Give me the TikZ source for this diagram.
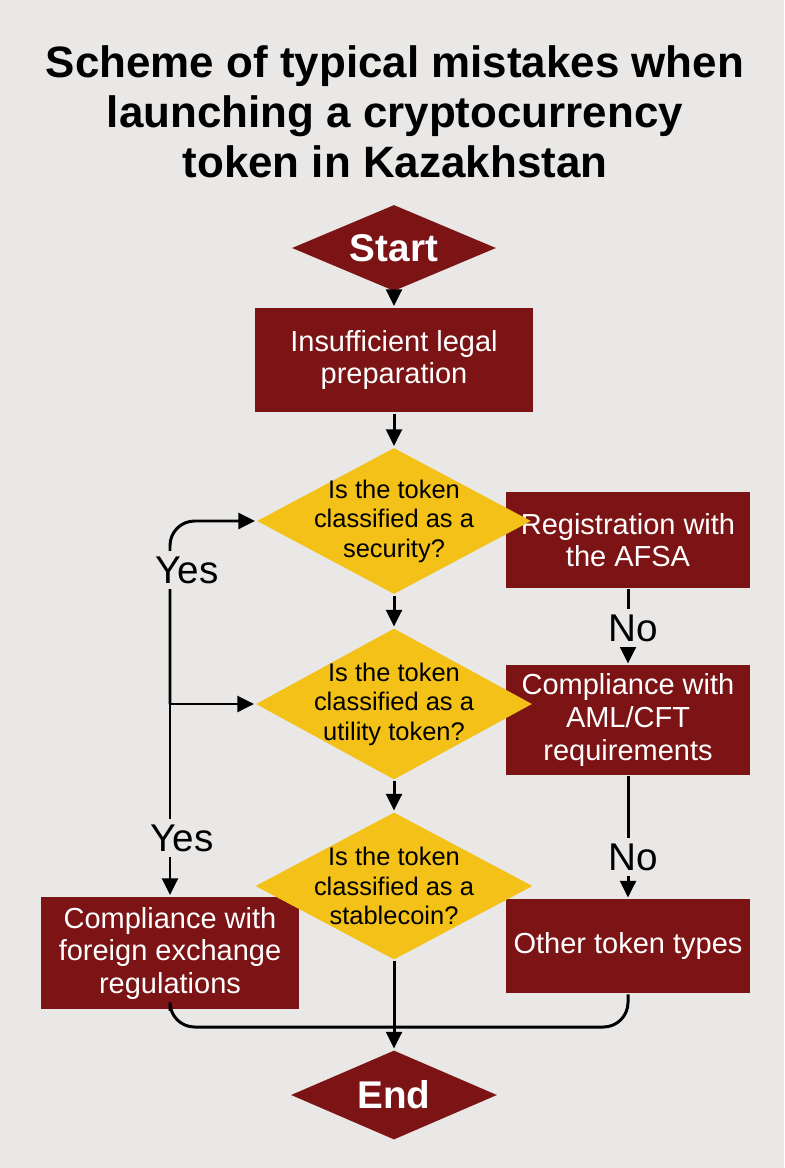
\documentclass[tikz,border=0pt]{standalone}
\usepackage{fontspec}
\setmainfont{Liberation Sans}
\usetikzlibrary{positioning,arrows.meta,shapes.geometric}
\definecolor{bgc}{RGB}{233,232,230}
\definecolor{maroon}{RGB}{124,20,22}
\definecolor{amber}{RGB}{243,193,24}

\begin{document}
\begin{tikzpicture}[x=0.02cm,y=-0.02cm,line width=1.7pt,>={Triangle[length=9.5pt,width=9pt]},
  b/.style={fill=maroon,text=white,align=center,inner sep=0pt,font=\fontsize{16.5}{18.5}\selectfont},
  d/.style={diamond,fill=maroon,text=white,inner sep=0pt,shape aspect=2.3,font=\bfseries\fontsize{22}{24}\selectfont},
  q/.style={diamond,fill=amber,inner sep=0pt,shape aspect=1.85},
  qt/.style={align=center,font=\fontsize{14.5}{16.8}\selectfont},
  yn/.style={fill=bgc,inner xsep=1pt,inner ysep=3pt,font=\fontsize{22}{24}\selectfont}]
\fill[bgc] (0,0) rectangle (784,1168);
\node[align=center,font=\bfseries\fontsize{25}{28.5}\selectfont] (title) at (395,112) {Scheme of typical mistakes when\\launching a cryptocurrency\\token in Kazakhstan};
% boxes
\node[b,minimum width=5.58cm,minimum height=2.1cm] (prep) at (394,360) {Insufficient legal\\preparation};
\node[b,minimum width=4.88cm,minimum height=1.92cm] (reg) at (628,540) {Registration with\\the AFSA};
\node[b,minimum width=4.88cm,minimum height=2.2cm] (aml) at (628,720) {Compliance with\\AML/CFT\\requirements};
\node[b,minimum width=4.88cm,minimum height=1.88cm] (other) at (628,946) {Other token types};
\node[b,minimum width=5.18cm,minimum height=2.26cm] (forex) at (170,953) {Compliance with\\foreign exchange\\regulations};
% diamonds
\node[d,minimum width=4.1cm,minimum height=1.74cm] (start) at (394,248) {Start};
\node[q,minimum width=5.5cm,minimum height=2.94cm,label={[qt]center:Is the token\\classified as a\\security?}] (q1) at (394,521) {};
\node[q,minimum width=5.54cm,minimum height=3.04cm,label={[qt]center:Is the token\\classified as a\\utility token?}] (q2) at (394,704) {};
\node[q,minimum width=5.56cm,minimum height=2.96cm,label={[qt]center:Is the token\\classified as a\\stablecoin?}] (q3) at (394,886) {};
\node[d,minimum width=4.14cm,minimum height=1.8cm] (end) at (394,1095) {End};
% arrows
\draw[->] (start) -- (prep);
\draw[->] (prep) -- (q1);
\draw[->] (q1) -- (q2);
\draw[->] (q2) -- (q3);
\draw[->] (q3) -- (end);
\draw[->] (reg) -- (aml);
\draw[->] (aml) -- (other);
\coordinate (spine) at (170,704);
\draw[->,rounded corners=14] (spine) |- (q1.west);
\draw[->] (spine) -- (q2.west);
\draw[->] (spine) -- (forex);
\coordinate (join) at (394,1027);
\draw[rounded corners=14] (forex.south) |- (join) -| (other.south);
\node[yn] (yes1) at (187,570) {Yes};
\node[yn] (yes2) at (182,838) {Yes};
\node[yn] (no1) at (633,628) {No};
\node[yn] (no2) at (633,857) {No};
\end{tikzpicture}
\end{document}
